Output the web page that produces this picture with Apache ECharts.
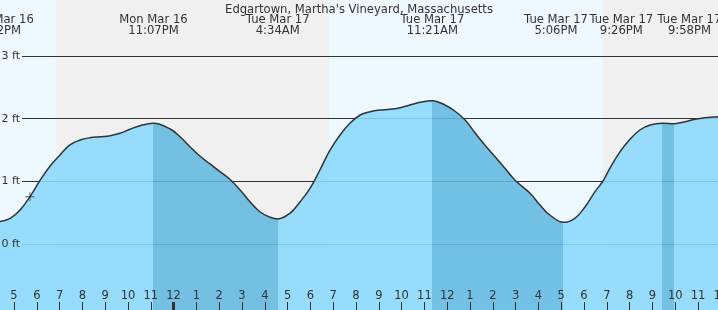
<!DOCTYPE html>
<html><head><meta charset="utf-8">
<script src="https://cdn.jsdelivr.net/npm/echarts@6/dist/echarts.min.js"></script>
<style>html,body{margin:0;padding:0;background:#f0f0f0}#c{width:718px;height:310px}</style>
</head><body><div id="c"></div>
<script>
// ---- data ----
const tideTimes = [
  '03-16 16:22','03-16 16:50','03-16 17:16','03-16 17:42','03-16 18:08','03-16 18:35','03-16 19:01','03-16 19:27',
  '03-16 19:54','03-16 20:20','03-16 20:46','03-16 21:13','03-16 21:39','03-16 22:05','03-16 22:32','03-16 23:07',
  '03-16 23:51','03-17 00:17','03-17 00:43','03-17 01:09','03-17 01:36','03-17 02:02','03-17 02:28','03-17 02:55',
  '03-17 03:21','03-17 03:47','03-17 04:14','03-17 04:34','03-17 05:06','03-17 05:33','03-17 05:59','03-17 06:25',
  '03-17 06:52','03-17 07:18','03-17 07:44','03-17 08:11','03-17 08:37','03-17 09:03','03-17 09:29','03-17 09:56',
  '03-17 10:22','03-17 10:48','03-17 11:21','03-17 11:54','03-17 12:20','03-17 12:47','03-17 13:13','03-17 13:39',
  '03-17 14:06','03-17 14:32','03-17 14:58','03-17 15:38','03-17 16:04','03-17 16:30','03-17 17:06','03-17 17:36',
  '03-17 18:03','03-17 18:29','03-17 18:50','03-17 19:08','03-17 19:35','03-17 20:01','03-17 20:27','03-17 20:54',
  '03-17 21:26','03-17 21:58','03-17 22:26','03-17 22:52','03-17 23:18','03-17 23:53'
];
const tideFeet = [
  0.356,0.410,0.543,0.755,1.010,1.245,1.420,1.580,
  1.659,1.696,1.712,1.728,1.766,1.830,1.888,1.926,
  1.835,1.712,1.553,1.404,1.277,1.154,1.032,0.862,
  0.675,0.515,0.426,0.399,0.490,0.675,0.889,1.181,
  1.500,1.739,1.926,2.058,2.111,2.138,2.149,2.175,
  2.218,2.261,2.287,2.218,2.122,1.979,1.776,1.580,
  1.393,1.208,1.021,0.809,0.622,0.463,0.346,0.410,
  0.595,0.835,1.005,1.208,1.473,1.671,1.819,1.899,
  1.926,1.920,1.951,1.990,2.015,2.031
];
const eventTimes  = ['03-16 16:22','03-16 23:07','03-17 04:34','03-17 11:21','03-17 17:06','03-17 21:26','03-17 21:58'];
const eventTypes  = ['low','high','low','high','low','high','low'];
const eventLabels = ['Mon Mar 16\n4:22PM','Mon Mar 16\n11:07PM','Tue Mar 17\n4:34AM','Tue Mar 17\n11:21AM',
                     'Tue Mar 17\n5:06PM','Tue Mar 17\n9:26PM','Tue Mar 17\n9:58PM'];
const dayPeriods  = [['03-16 16:00','03-16 18:51'],['03-17 06:49','03-17 18:50']];
const nowTime = '03-16 17:42';
const nowFeet = 0.755;
const depthTicks = [0,1,2,3];

// ---- styles ----
const labelShift = [0,0,0,0,-7.5,-41,15];
const FONT = 'DejaVu Sans';
const TXT = '#333';

const toH = s => { const d=+s.slice(3,5), h=+s.slice(6,8), m=+s.slice(9,11); return (d-16)*24+h+m/60; };
const tide = tideTimes.map((t,i)=>[toH(t), tideFeet[i]]);
const falling = [];
for (let i=0;i<eventTypes.length-1;i++){
  if (eventTypes[i]==='high' && eventTypes[i+1]==='low')
    falling.push({gte: toH(eventTimes[i]), lt: toH(eventTimes[i+1]), color:'#62b9e1'});
}
const Y_MIN = -1.053, Y_MAX = 3.893;

const chart = echarts.init(document.getElementById('c'));
chart.setOption({
  backgroundColor:'#f0f0f0',
  animation:false,
  title:{text:"Edgartown, Martha's Vineyard, Massachusetts", left:'center', top:0, padding:[3.5,0,0,0],
    textStyle:{fontFamily:FONT, fontSize:11.6, fontWeight:'normal', color:TXT}},
  grid:[
    {left:-8.8, right:-2.8, top:0, bottom:0, containLabel:false, outerBoundsMode:'none'},
    {left:22, right:0, top:56, bottom:66, containLabel:false, outerBoundsMode:'none'},
    {left:-373.6, right:-2.8, top:0, bottom:0, containLabel:false, outerBoundsMode:'none'}
  ],
  visualMap:{type:'piecewise', show:false, dimension:0, seriesIndex:1, pieces:falling, outOfRange:{color:'#8ad9fc'}},
  xAxis:[
    {type:'value', gridIndex:0, position:'bottom', min:16, max:48, interval:1, z:6,
      axisLine:{show:false, onZero:false}, splitLine:{show:false},
      axisTick:{inside:true, length:8, lineStyle:{color:TXT}},
      axisLabel:{inside:true, margin:8, showMinLabel:true, showMaxLabel:true, color:TXT, fontFamily:FONT, fontSize:11.5,
        formatter:v=>String((Math.round(v)%12)||12)}},
    {type:'value', gridIndex:1, show:false, min:0, max:1, axisLine:{onZero:false}},
    {type:'value', gridIndex:2, position:'bottom', min:0, max:48, interval:24, z:6,
      axisLine:{show:false, onZero:false}, splitLine:{show:false},
      axisLabel:{show:false}, axisTick:{inside:true, length:8, lineStyle:{color:TXT, width:3}}}
  ],
  yAxis:[
    {type:'value', gridIndex:0, min:Y_MIN, max:Y_MAX, show:false, axisLine:{onZero:false}},
    {type:'value', gridIndex:1, position:'left', min:depthTicks[0], max:depthTicks[depthTicks.length-1], interval:1, z:2,
      axisLine:{show:false, onZero:false}, axisTick:{show:false}, axisLabel:{show:false},
      splitLine:{lineStyle:{color:TXT, width:1}}},
    {type:'value', gridIndex:1, position:'left', offset:0, min:depthTicks[0], max:depthTicks[depthTicks.length-1], interval:1, z:6,
      axisLine:{show:false, onZero:false}, axisTick:{show:false}, splitLine:{show:false},
      axisLabel:{margin:2, color:TXT, fontFamily:FONT, fontSize:11, formatter:'{value} ft'}},
    {type:'value', gridIndex:2, show:false, min:0, max:1, axisLine:{onZero:false}}
  ],
  series:[
    {type:'line', xAxisIndex:0, yAxisIndex:0, data:[], silent:true,
      markArea:{silent:true, z:1, itemStyle:{color:'#eef8ff'},
        data:dayPeriods.map(p=>[{xAxis:toH(p[0])},{xAxis:toH(p[1])}])}},
    {type:'line', xAxisIndex:0, yAxisIndex:0, data:tide, smooth:0.4, showSymbol:false, silent:true, z:3,
      lineStyle:{width:0}, areaStyle:{origin:'start', opacity:0.88}},
    {type:'line', xAxisIndex:0, yAxisIndex:0, data:tide, smooth:0.4, showSymbol:false, silent:true, z:4,
      lineStyle:{color:TXT, width:1.5},
      markPoint:{silent:true, symbol:'circle', symbolSize:1, itemStyle:{color:'rgba(0,0,0,0)'},
        data:eventTimes.map((t,i)=>({coord:[toH(t), Y_MAX], label:{offset:[labelShift[i],0]}})),
        label:{show:true, position:'bottom', distance:14, align:'center', color:TXT, fontFamily:FONT,
          fontSize:11.6, lineHeight:11, formatter:p=>eventLabels[p.dataIndex]}}},
    {type:'scatter', xAxisIndex:0, yAxisIndex:0, silent:true, z:5,
      data:[[toH(nowTime), nowFeet]],
      symbol:'path://M-0.1,-1L0.1,-1L0.1,1L-0.1,1Z M-1,-0.1L1,-0.1L1,0.1L-1,0.1Z', symbolSize:9,
      itemStyle:{color:TXT}}
  ]
});
</script></body></html>
